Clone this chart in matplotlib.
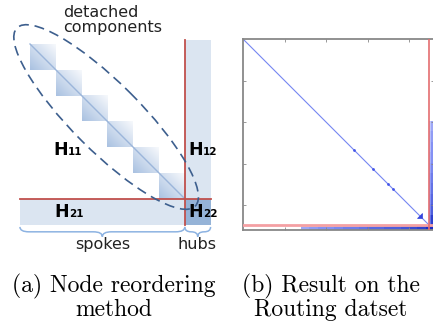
import matplotlib
matplotlib.use("Agg")
import matplotlib.pyplot as plt
import numpy as np
from matplotlib.colors import LinearSegmentedColormap
from matplotlib.patches import Ellipse, PathPatch, Polygon, Rectangle
from matplotlib.path import Path

# ---- panel (a): schematic of the reordered matrix (block units) ----
block_sizes = [1, 1, 1, 1, 1, 1]
hub_size = 1.0
spoke_left_margin = 0.39
hub_top_margin = 0.155
h_labels = ["11", "12", "21", "22"]
brace_labels = ["spokes", "hubs"]
ellipse_label = "detached\ncomponents"

# ---- panel (b): reordered adjacency matrix of the Routing dataset ----
n_nodes = 4600
n_spokes = 4490
tick_step = 1000
small_components = [2683, 3138, 3498, 3618]
big_component = (4190, 120)  # start node, size
hub_row_start = 1400
hub_row_bin = 200
hub_row_density = [
    [0.15, 0.15, 0.2, 0.2, 0.25, 0.3, 0.3, 0.35, 0.4, 0.45, 0.45, 0.5, 0.55, 0.6, 0.7, 0.85],
    [0.4, 0.45, 0.5, 0.5, 0.55, 0.6, 0.6, 0.65, 0.7, 0.7, 0.75, 0.75, 0.8, 0.85, 0.9, 1.0],
]
hub_col_start = 2000
hub_col_bin = 249
hub_col_density = [
    [0.25, 0.3, 0.3, 0.35, 0.4, 0.45, 0.45, 0.5, 0.55, 0.65],
    [0.4, 0.45, 0.5, 0.5, 0.55, 0.6, 0.65, 0.7, 0.75, 0.9],
]

captions = [
    ("(a) Node reordering", "method"),
    ("(b) Result on the", "Routing datset"),
]

W, H = 433, 325
UNIT = 25.8           # pixels per block unit in panel (a)
ORIGIN = (30, 44)     # pixel position of the first block corner


def _brace(ax, x0, x1, y0, depth, color):
    xm = (x0 + x1) / 2.0
    r = min(0.35, (x1 - x0) / 4.0)
    ym = y0 + depth * 0.5
    verts = [
        (x0, y0), (x0, ym), (x0 + r, ym),
        (xm - r, ym),
        (xm, ym), (xm, y0 + depth),
        (xm, ym), (xm + r, ym),
        (x1 - r, ym),
        (x1, ym), (x1, y0),
    ]
    codes = [Path.MOVETO, Path.CURVE3, Path.CURVE3, Path.LINETO,
             Path.CURVE3, Path.CURVE3, Path.CURVE3, Path.CURVE3,
             Path.LINETO, Path.CURVE3, Path.CURVE3]
    ax.add_patch(PathPatch(Path(verts, codes), facecolor="none",
                           edgecolor=color, linewidth=1.1, zorder=3))


def _h_label(ax, x, y, sub):
    ax.text(x, y, "H", fontsize=12.5, fontweight="bold", ha="left",
            va="baseline", color="black", zorder=6)
    ax.annotate(sub, (x, y), xytext=(11.0, 0), textcoords="offset points",
                fontsize=7.5, fontweight="bold", ha="left", va="baseline",
                color="black", zorder=6)


fig = plt.figure(figsize=(W / 100, H / 100), dpi=100)

# ---------------- panel (a) ----------------
ax_a = fig.add_axes([0, (H - 260) / H, 230 / W, 260 / H])
n_spoke = float(sum(block_sizes))
n_all = n_spoke + hub_size

grad_cmap = LinearSegmentedColormap.from_list("blk", ["#f7f9fc", "#a9c1e1"])
g = np.linspace(0, 1, 64)
grad = (g[:, None] - g[None, :] + 1) / 2.0

# bands
ax_a.add_patch(Rectangle((-spoke_left_margin, n_spoke), n_all + spoke_left_margin, hub_size,
                         facecolor="#dbe5f1", edgecolor="none", zorder=0))
ax_a.add_patch(Rectangle((n_spoke, -hub_top_margin), hub_size, n_all + hub_top_margin,
                         facecolor="#dbe5f1", edgecolor="none", zorder=0))
ax_a.add_patch(Rectangle((n_spoke, n_spoke), hub_size, hub_size,
                         facecolor="#95b3d7", edgecolor="none", zorder=1))

start = 0.0
for size in block_sizes:
    ax_a.imshow(grad, cmap=grad_cmap, vmin=0, vmax=1, interpolation="bilinear",
                extent=(start, start + size, start + size, start), zorder=1)
    start += size
ax_a.plot([0, n_spoke], [0, n_spoke], color="#9bb5da", linewidth=1.0, zorder=2)

ax_a.plot([-spoke_left_margin, n_all], [n_spoke, n_spoke], color="#c0504d", linewidth=1.3, zorder=4)
ax_a.plot([n_spoke, n_spoke], [-hub_top_margin, n_all], color="#c0504d", linewidth=1.3, zorder=4)

ax_a.add_patch(Ellipse((2.95, 2.83), 9.77, 2.64, angle=45, facecolor="none",
                       edgecolor="#3d5f8e", linewidth=1.2, linestyle=(0, (6, 3.5)), zorder=5))

_h_label(ax_a, 0.89, 4.30, h_labels[0])
_h_label(ax_a, 6.12, 4.30, h_labels[1])
_h_label(ax_a, 0.93, 6.71, h_labels[2])
_h_label(ax_a, 6.12, 6.71, h_labels[3])

_brace(ax_a, -spoke_left_margin, n_spoke, 7.09, 0.38, "#8db3e2")
_brace(ax_a, n_spoke, n_all, 7.09, 0.38, "#8db3e2")
ax_a.text((n_spoke - spoke_left_margin) / 2.0, 7.95, brace_labels[0], fontsize=11.5,
          ha="center", va="baseline", color="#222222")
ax_a.text(n_spoke + 0.47, 7.95, brace_labels[1], fontsize=11.5,
          ha="center", va="baseline", color="#222222")
ax_a.text(1.28, -1.52, ellipse_label, fontsize=11.5, ha="left", va="top",
          linespacing=1.0, color="#222222")

ax_a.set_xlim(-ORIGIN[0] / UNIT, (230 - ORIGIN[0]) / UNIT)
ax_a.set_ylim((260 - ORIGIN[1]) / UNIT, -ORIGIN[1] / UNIT)
ax_a.set_aspect("auto")
ax_a.axis("off")

# ---------------- panel (b) ----------------
ax_b = fig.add_axes([243 / W, (H - 230) / H, 191 / W, 191 / H])
spy_cmap = LinearSegmentedColormap.from_list("spy", ["#ffffff", "#8592f5", "#1a2cc4"])

row_d = np.array(hub_row_density)
ax_b.imshow(row_d, cmap=spy_cmap, vmin=0, vmax=1, interpolation="nearest",
            extent=(hub_row_start, hub_row_start + hub_row_bin * row_d.shape[1], n_nodes, n_spokes),
            zorder=1)
col_d = np.array(hub_col_density).T
ax_b.imshow(col_d, cmap=spy_cmap, vmin=0, vmax=1, interpolation="nearest",
            extent=(n_spokes, n_nodes, hub_col_start + hub_col_bin * col_d.shape[0], hub_col_start),
            zorder=1)

ax_b.plot([0, n_spokes], [0, n_spokes], color="#7686f2", linewidth=0.8, zorder=2)
ax_b.scatter(small_components, small_components, s=4, color="#4455e8", linewidths=0, zorder=3)
s0, sz = big_component
ax_b.add_patch(Polygon([(s0, s0 + sz), (s0 + sz, s0 + sz), (s0 + sz, s0)], closed=True,
                       facecolor="#3344dd", edgecolor="#3344dd", linewidth=0.5, zorder=3))

ax_b.axhline(n_spokes, color="#f4a0a3", linewidth=2.0, zorder=4)
ax_b.axvline(n_spokes, color="#e46d70", linewidth=1.2, zorder=4)

ax_b.set_xlim(0, n_nodes)
ax_b.set_ylim(n_nodes, 0)
ax_b.set_aspect("auto")
ticks = np.arange(tick_step, n_nodes, tick_step)
ax_b.set_xticks(ticks)
ax_b.set_yticks(ticks)
ax_b.set_xticklabels([])
ax_b.set_yticklabels([])
ax_b.tick_params(direction="in", length=2.5, width=0.6, color="#888888",
                 top=True, right=True, bottom=True, left=True)
for spine in ax_b.spines.values():
    spine.set_color("#888888")
    spine.set_linewidth(1.3)

# ---------------- captions ----------------
for cx, lines in zip([114, 331], captions):
    fig.text(cx / W, 1 - 292 / H, lines[0], family="cmr10", fontsize=17,
             ha="center", va="baseline")
    fig.text(cx / W, 1 - 316 / H, lines[1], family="cmr10", fontsize=17,
             ha="center", va="baseline")

fig.savefig("out.png", dpi=100)
plt.close(fig)
